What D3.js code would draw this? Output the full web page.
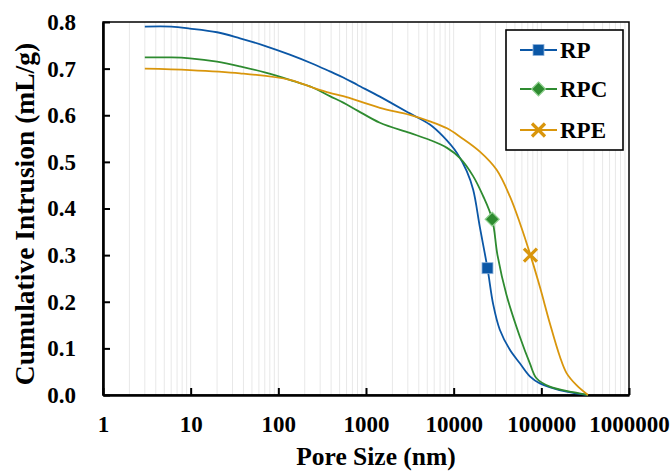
<!DOCTYPE html>
<html lang="en">
<head>
<meta charset="UTF-8">
<title>Cumulative Intrusion</title>
<style>
    body { margin: 0; background: white; }
    svg { display: block; }
    text {
        font-family: "Liberation Serif", "Times New Roman", serif;
        font-weight: bold;
        fill: black;
    }
    .tick-label { font-size: 23px; }
    .x-title { font-size: 25.5px; }
    .y-title { font-size: 27.5px; }
    .legend-label { font-size: 23px; }
</style>
</head>
<body>
<svg class="chart"></svg>
<script src="https://cdn.jsdelivr.net/npm/d3@7"></script>
<script>

// pore size (nm) and cumulative intrusion (mL/g)
const rpSize = [3, 6, 9.8, 20, 36.5, 70, 135, 250, 387, 550, 800, 1440, 2000, 3160, 5350, 7530, 10900, 14100, 16700, 19900, 24300, 28200, 33600, 43800, 56900, 74000, 96200, 194000, 340000];
const rpValue = [0.790, 0.790, 0.786, 0.778, 0.765, 0.749, 0.730, 0.710, 0.694, 0.681, 0.665, 0.640, 0.625, 0.604, 0.580, 0.555, 0.519, 0.480, 0.440, 0.360, 0.272, 0.195, 0.140, 0.097, 0.068, 0.040, 0.025, 0.007, 0.0];

const rpcSize = [3, 6, 9.8, 20, 36.5, 70, 135, 250, 387, 550, 800, 1440, 3160, 5350, 8400, 11800, 16600, 21500, 27500, 31600, 40000, 56900, 74000, 88000, 125000, 230000, 340000];
const rpcValue = [0.724, 0.724, 0.722, 0.715, 0.705, 0.692, 0.676, 0.659, 0.641, 0.627, 0.610, 0.584, 0.562, 0.547, 0.530, 0.508, 0.470, 0.428, 0.377, 0.300, 0.215, 0.125, 0.068, 0.036, 0.018, 0.006, 0.0];

const rpeSize = [3, 9.8, 36.5, 135, 250, 387, 550, 1440, 3160, 5350, 8400, 12000, 19900, 30900, 43800, 56900, 75100, 96200, 125000, 163000, 194000, 252000, 340000];
const rpeValue = [0.700, 0.697, 0.690, 0.676, 0.659, 0.648, 0.641, 0.616, 0.601, 0.587, 0.572, 0.553, 0.522, 0.483, 0.426, 0.369, 0.300, 0.232, 0.154, 0.082, 0.047, 0.021, 0.0];

// single marker on each curve
const markerSize = [24300, 27500, 75100];
const markerValue = [0.272, 0.377, 0.300];

const seriesNames = ["RP", "RPC", "RPE"];
const seriesColors = ["#0b57a6", "#2e8b30", "#d9960c"];
const markerShapes = ["square", "diamond", "cross"];

const xTicks = [1, 10, 100, 1000, 10000, 100000, 1000000];
const yTicks = [0, 0.1, 0.2, 0.3, 0.4, 0.5, 0.6, 0.7, 0.8];

const width = 672, height = 472;
const margin = { top: 22, right: 43, bottom: 77, left: 103 };

const svg = d3.select("svg")
    .attr("width", width)
    .attr("height", height);

const x = d3.scaleLog()
    .domain([1, 1000000])
    .range([margin.left, width - margin.right]);

const y = d3.scaleLinear()
    .domain([0, 0.8])
    .range([height - margin.bottom, margin.top]);

// light vertical grid at every log tick
svg.append("g")
    .selectAll("line")
    .data(x.ticks().filter(d => d > 1 && d < 1000000))
    .join("line")
    .attr("x1", d => x(d))
    .attr("x2", d => x(d))
    .attr("y1", y(0))
    .attr("y2", y(0.8))
    .attr("stroke", "#e8e8e8")
    .attr("stroke-width", 1);

// frame: thin top/right, heavy axes
svg.append("rect")
    .attr("x", x(1))
    .attr("y", y(0.8))
    .attr("width", x(1000000) - x(1))
    .attr("height", y(0) - y(0.8))
    .attr("fill", "none")
    .attr("stroke", "black")
    .attr("stroke-width", 1.5);

const xAxis = svg.append("g")
    .attr("transform", `translate(0,${y(0)})`)
    .call(d3.axisBottom(x)
        .tickValues(xTicks)
        .tickSizeInner(-7)
        .tickSizeOuter(0)
        .tickPadding(21)
        .tickFormat(d3.format("d")));

const yAxis = svg.append("g")
    .attr("transform", `translate(${x(1)},0)`)
    .call(d3.axisLeft(y)
        .tickValues(yTicks)
        .tickSizeInner(-7)
        .tickSizeOuter(0)
        .tickPadding(27)
        .tickFormat(d3.format(".1f")));

[xAxis, yAxis].forEach(axis => {
    axis.attr("font-size", null).attr("font-family", null);
    axis.select(".domain")
        .attr("stroke", "black")
        .attr("stroke-width", 2.6);
    axis.selectAll(".tick line")
        .attr("stroke", "black")
        .attr("stroke-width", 2);
    axis.selectAll(".tick text")
        .attr("class", "tick-label");
});

svg.append("text")
    .attr("class", "x-title")
    .attr("x", (x(1) + x(1000000)) / 2 + 10)
    .attr("y", 465)
    .attr("text-anchor", "middle")
    .text("Pore Size (nm)");

svg.append("text")
    .attr("class", "y-title")
    .attr("transform", "translate(34,214) rotate(-90)")
    .attr("text-anchor", "middle")
    .text("Cumulative Intrusion (mL/g)");

// curves
const series = [
    { sizes: rpSize, values: rpValue },
    { sizes: rpcSize, values: rpcValue },
    { sizes: rpeSize, values: rpeValue }
];

const line = d3.line()
    .x(d => x(d[0]))
    .y(d => y(d[1]))
    .curve(d3.curveCatmullRom.alpha(0.5));

svg.append("g")
    .selectAll("path")
    .data(series)
    .join("path")
    .attr("d", s => line(d3.zip(s.sizes, s.values)))
    .attr("fill", "none")
    .attr("stroke", (s, i) => seriesColors[i])
    .attr("stroke-width", 1.8);

function drawMarker(g, shape, color) {
    if (shape === "square") {
        g.append("rect")
            .attr("x", -5.5).attr("y", -5.5)
            .attr("width", 11).attr("height", 11)
            .attr("fill", color)
            .attr("stroke", "#8fb3dc")
            .attr("stroke-width", 0.8);
    } else if (shape === "diamond") {
        g.append("path")
            .attr("d", "M0,-7L7,0L0,7L-7,0Z")
            .attr("fill", color)
            .attr("stroke", "#8fd08f")
            .attr("stroke-width", 1.2);
    } else {
        g.append("path")
            .attr("d", "M-6.5,-6.5L6.5,6.5M-6.5,6.5L6.5,-6.5")
            .attr("stroke", color)
            .attr("stroke-width", 3.2);
    }
}

markerSize.forEach((s, i) => {
    const g = svg.append("g")
        .attr("transform", `translate(${x(s)},${y(markerValue[i])})`);
    drawMarker(g, markerShapes[i], seriesColors[i]);
});

// legend
const legend = svg.append("g");

legend.append("rect")
    .attr("x", 506)
    .attr("y", 30)
    .attr("width", 117)
    .attr("height", 120)
    .attr("fill", "white")
    .attr("stroke", "black")
    .attr("stroke-width", 1.6);

const legendRows = [50, 89, 130];

seriesNames.forEach((name, i) => {
    const row = legend.append("g")
        .attr("transform", `translate(0,${legendRows[i]})`);
    row.append("line")
        .attr("x1", 520).attr("x2", 557)
        .attr("stroke", seriesColors[i])
        .attr("stroke-width", 1.8);
    const m = row.append("g").attr("transform", "translate(538.5,0)");
    drawMarker(m, markerShapes[i], seriesColors[i]);
    row.append("text")
        .attr("class", "legend-label")
        .attr("x", 560)
        .attr("y", 8)
        .text(name);
});

</script>
</body>
</html>
